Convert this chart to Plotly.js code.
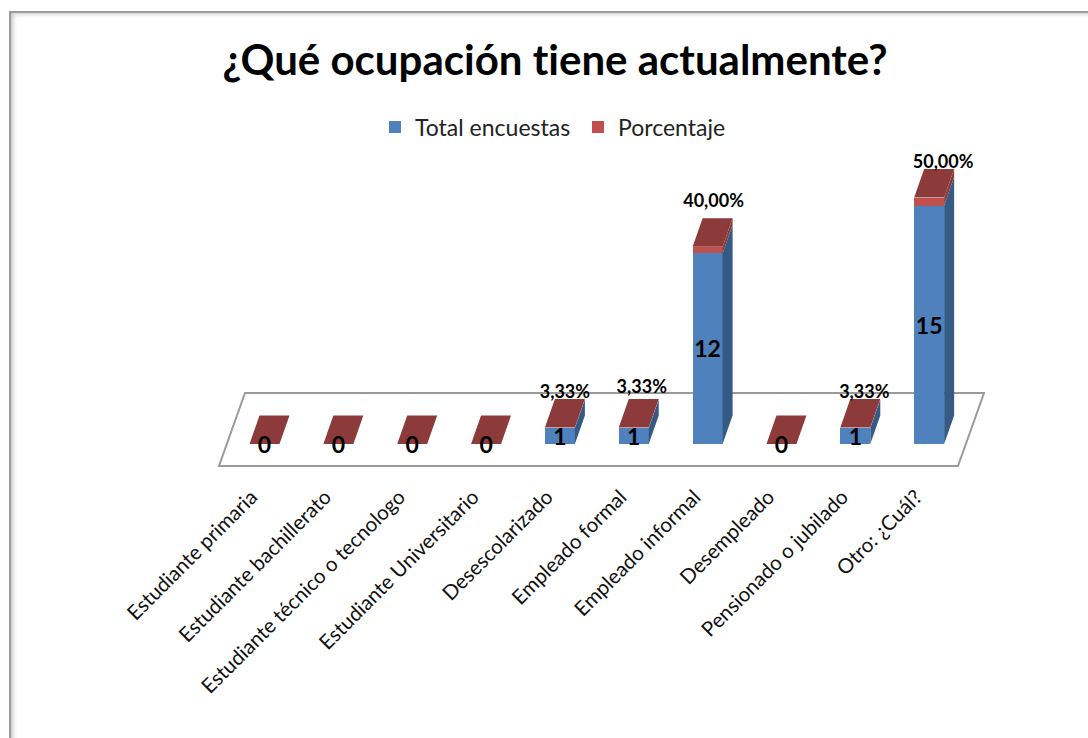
<!DOCTYPE html>
<html>
<head>
<meta charset="utf-8">
<script src="https://cdn.plot.ly/plotly-3.0.1.min.js"></script>
<style>
  html, body { margin: 0; padding: 0; background: #fff; overflow: hidden; }
  #frame { position: absolute; left: 9px; top: 11px; width: 1079px; height: 727px;
           border-left: 2px solid #9c9c9c; border-top: 2px solid #9c9c9c;
           box-sizing: border-box; box-shadow: inset 4px 3px 4px -2px #c4c4c4; }
  #plot { position: absolute; left: 0; top: 0; width: 1088px; height: 738px; }
  #plot text { font-variant-ligatures: none !important; font-feature-settings: "liga" 0 !important; }
</style>
</head>
<body>
<div id="frame"></div>
<div id="plot"></div>
<script>
var categories = ["Estudiante primaria", "Estudiante bachillerato", "Estudiante técnico o tecnologo",
    "Estudiante Universitario", "Desescolarizado", "Empleado formal", "Empleado informal",
    "Desempleado", "Pensionado o jubilado", "Otro: ¿Cuál?"];
var totalEncuestas = [0, 0, 0, 0, 1, 1, 12, 0, 1, 15];
var porcentaje = [0, 0, 0, 0, 0.0333, 0.0333, 0.4, 0, 0.0333, 0.5];

// how the axes sit on the page: one category = 73.85px, one unit = 15.9px
var xUnit = 73.85, yUnit = 15.9;
var x0px = 264.5, y0px = 444;
var plotLeft = 190, plotRight = 1010, plotTop = 150, plotBottom = 480;

// fake 3D depth of the bars, in axis units
var depthX = 10 / xUnit, depthY = 28.5 / yUnit, barWidth = 0.406;

// hand moved labels, in px
var totalNudgeY = -3;
var pctNudgeX = [0, 0, 0, 0, -5, -2, -4, 0, -1, 4];
var pctNudgeY = [0, 0, 0, 0, 6, 11, 16, 0, 6, 6];

var idx = categories.map(function (c, i) { return i; });

function face(x1, x2, y1, y2, shiftBack, out) {
    // side face when shiftBack is false, top face when true
    if (shiftBack) {
        out.x.push(x1, x2, x2 + depthX, x1 + depthX, x1, null);
        out.y.push(y1, y1, y1 + depthY, y1 + depthY, y1, null);
    } else {
        out.x.push(x2, x2 + depthX, x2 + depthX, x2, x2, null);
        out.y.push(y1, y1 + depthY, y2 + depthY, y2, y1, null);
    }
}

var sideBlue = { x: [], y: [] }, sideRed = { x: [], y: [] }, topRed = { x: [], y: [] };
idx.forEach(function (i) {
    var l = i - barWidth / 2, r = i + barWidth / 2;
    var t = totalEncuestas[i], p = porcentaje[i];
    if (t > 0) face(l, r, 0, t, false, sideBlue);
    if (p > 0) face(l, r, t, t + p, false, sideRed);
    face(l, r, t + p, t + p, true, topRed);
});

function polyTrace(d, color) {
    return { x: d.x, y: d.y, type: "scatter", mode: "lines", fill: "toself", fillcolor: color,
        line: { width: 0, color: color }, showlegend: false, hoverinfo: "skip" };
}

var trace1 = { x: idx, y: totalEncuestas, type: "bar", name: "Total encuestas", width: barWidth,
    marker: { color: "#4f81bd" } };
var trace2 = { x: idx, y: porcentaje, type: "bar", name: "Porcentaje", width: barWidth,
    marker: { color: "#c0504d" } };

var totalLabels = { x: idx, y: totalEncuestas.map(function (v) { return v / 2 + totalNudgeY / yUnit; }),
    text: totalEncuestas.map(String), type: "scatter", mode: "text", textposition: "middle center",
    textfont: { family: "Lato", size: 23, color: "#000", weight: "bold" },
    showlegend: false, hoverinfo: "skip" };

var pctIdx = idx.filter(function (i) { return porcentaje[i] > 0; });
var pctLabels = { x: pctIdx.map(function (i) { return i + depthX + pctNudgeX[i] / xUnit; }),
    y: pctIdx.map(function (i) { return totalEncuestas[i] + porcentaje[i] + depthY + pctNudgeY[i] / yUnit; }),
    text: pctIdx.map(function (i) { return (porcentaje[i] * 100).toFixed(2).replace(".", ",") + "%"; }),
    type: "scatter", mode: "text", textposition: "middle center",
    textfont: { family: "Lato", size: 18, color: "#000", weight: "bold" },
    showlegend: false, hoverinfo: "skip" };

var plotData = [trace1, trace2, polyTrace(sideBlue, "#355a85"), polyTrace(sideRed, "#8a3b39"),
    polyTrace(topRed, "#8c3a3a"), totalLabels, pctLabels];

// floor of the chart, corners read in px and turned into axis units
function fx(px) { return (px - x0px) / xUnit; }
function fy(px) { return (y0px - px) / yUnit; }
var floorPath = "M" + fx(219) + "," + fy(466) + " L" + fx(958) + "," + fy(466) +
    " L" + fx(984) + "," + fy(393) + " L" + fx(245) + "," + fy(393) + " Z";

var layout = {
    width: 1088, height: 738,
    margin: { l: plotLeft, r: 1088 - plotRight, t: plotTop, b: 738 - plotBottom, pad: 0 },
    paper_bgcolor: "rgba(0,0,0,0)", plot_bgcolor: "rgba(0,0,0,0)",
    barmode: "stack",
    font: { family: "Lato", color: "#000" },
    title: { text: "<b>¿Qué ocupación tiene actualmente?</b>", font: { family: "Lato", size: 42, color: "#000" },
        x: 555 / 1088, xanchor: "center", xref: "container", y: 1 - 60 / 738, yanchor: "middle", yref: "container" },
    legend: { orientation: "h", x: 375 / 1088, xref: "container", xanchor: "left", y: 1 - 127 / 738, yref: "container",
        yanchor: "middle", font: { family: "Lato", size: 23, color: "#222" }, entrywidth: 158, entrywidthmode: "pixels",
        bgcolor: "rgba(0,0,0,0)", traceorder: "normal" },
    xaxis: { range: [fx(plotLeft), fx(plotRight)], tickmode: "array", tickvals: idx, ticktext: categories,
        tickangle: -45, tickfont: { family: "Lato", size: 20.5, color: "#111" }, ticklabelshift: -13, showgrid: false,
        zeroline: false, showline: false, ticks: "", fixedrange: true, automargin: false },
    yaxis: { range: [fy(plotBottom), fy(plotTop)], showgrid: false, zeroline: false, showline: false,
        showticklabels: false, ticks: "", fixedrange: true, automargin: false },
    shapes: [{ type: "path", path: floorPath, xref: "x", yref: "y", layer: "below",
        line: { color: "#9a9a9a", width: 2 }, fillcolor: "#fff" }]
};

Plotly.newPlot("plot", plotData, layout, { displayModeBar: false, staticPlot: true });
</script>
</body>
</html>
